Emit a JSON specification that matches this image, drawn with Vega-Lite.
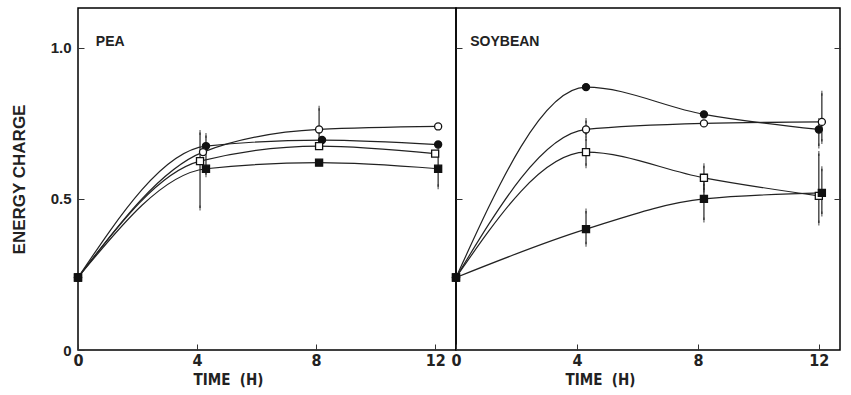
{
  "$schema": "https://vega.github.io/schema/vega-lite/v6.json",
  "background": "white",
  "padding": {"left": 9, "top": 7, "right": 10, "bottom": 0},
  "spacing": 0,
  "bounds": "flush",
  "config": {
    "view": {"stroke": "black", "strokeWidth": 1.5},
    "font": "Liberation Sans",
    "axis": {"grid": false, "domain": false, "tickColor": "#333", "labelColor": "#222", "titleColor": "#222", "labelFontWeight": "bold", "titleFontWeight": "bold"}
  },
  "datasets": {
    "pts": [
      {"crop": "PEA", "series": "fc", "t": 0, "ec": 0.24},
      {"crop": "PEA", "series": "fc", "t": 4.3, "ec": 0.675, "lo": 0.58, "hi": 0.71},
      {"crop": "PEA", "series": "fc", "t": 8.2, "ec": 0.695},
      {"crop": "PEA", "series": "fc", "t": 12.1, "ec": 0.68},
      {"crop": "PEA", "series": "oc", "t": 0, "ec": 0.24},
      {"crop": "PEA", "series": "oc", "t": 4.2, "ec": 0.655},
      {"crop": "PEA", "series": "oc", "t": 8.1, "ec": 0.73, "lo": 0.67, "hi": 0.80},
      {"crop": "PEA", "series": "oc", "t": 12.1, "ec": 0.74},
      {"crop": "PEA", "series": "os", "t": 0, "ec": 0.24},
      {"crop": "PEA", "series": "os", "t": 4.1, "ec": 0.625, "lo": 0.47, "hi": 0.72},
      {"crop": "PEA", "series": "os", "t": 8.1, "ec": 0.675},
      {"crop": "PEA", "series": "os", "t": 12.0, "ec": 0.65},
      {"crop": "PEA", "series": "fs", "t": 0, "ec": 0.24},
      {"crop": "PEA", "series": "fs", "t": 4.3, "ec": 0.60},
      {"crop": "PEA", "series": "fs", "t": 8.1, "ec": 0.62},
      {"crop": "PEA", "series": "fs", "t": 12.1, "ec": 0.60, "lo": 0.54, "hi": 0.66},
      {"crop": "SOYBEAN", "series": "fc", "t": 0, "ec": 0.24},
      {"crop": "SOYBEAN", "series": "fc", "t": 4.3, "ec": 0.87},
      {"crop": "SOYBEAN", "series": "fc", "t": 8.2, "ec": 0.78},
      {"crop": "SOYBEAN", "series": "fc", "t": 12.0, "ec": 0.73, "lo": 0.675, "hi": 0.76},
      {"crop": "SOYBEAN", "series": "oc", "t": 0, "ec": 0.24},
      {"crop": "SOYBEAN", "series": "oc", "t": 4.3, "ec": 0.73, "lo": 0.71, "hi": 0.76},
      {"crop": "SOYBEAN", "series": "oc", "t": 8.2, "ec": 0.75},
      {"crop": "SOYBEAN", "series": "oc", "t": 12.1, "ec": 0.755, "lo": 0.69, "hi": 0.85},
      {"crop": "SOYBEAN", "series": "os", "t": 0, "ec": 0.24},
      {"crop": "SOYBEAN", "series": "os", "t": 4.3, "ec": 0.655, "lo": 0.61, "hi": 0.70},
      {"crop": "SOYBEAN", "series": "os", "t": 8.2, "ec": 0.57, "lo": 0.53, "hi": 0.61},
      {"crop": "SOYBEAN", "series": "os", "t": 12.0, "ec": 0.51, "lo": 0.42, "hi": 0.65},
      {"crop": "SOYBEAN", "series": "fs", "t": 0, "ec": 0.24},
      {"crop": "SOYBEAN", "series": "fs", "t": 4.3, "ec": 0.40, "lo": 0.35, "hi": 0.46},
      {"crop": "SOYBEAN", "series": "fs", "t": 8.2, "ec": 0.50, "lo": 0.43, "hi": 0.55},
      {"crop": "SOYBEAN", "series": "fs", "t": 12.1, "ec": 0.52, "lo": 0.45, "hi": 0.60}
    ],
    "labels": [
      {"crop": "PEA", "t": 0.6, "ec": 1.02},
      {"crop": "SOYBEAN", "t": 0.47, "ec": 1.02}
    ]
  },
  "hconcat": [
    {
      "width": 378,
      "height": 342,
      "layer": [
        {
          "data": {"name": "pts"},
          "transform": [{"filter": "datum.crop == 'PEA'"}],
          "mark": {"type": "line", "interpolate": "monotone", "color": "#222", "strokeWidth": 1.2},
          "encoding": {
            "x": {"field": "t", "type": "quantitative", "scale": {"domain": [0, 12.7], "nice": false},
              "axis": {"values": [0, 4, 8, 12], "tickSize": -6, "labelFontSize": 16, "labelFont": "DejaVu Sans Condensed, Liberation Sans", "labelPadding": 8, "title": "TIME\u00a0 (H)", "titleFontSize": 15, "titleFont": "DejaVu Sans Condensed, Liberation Sans", "titlePadding": 4, "titleX": 150, "labelFlush": false}},
            "y": {"field": "ec", "type": "quantitative", "scale": {"domain": [0, 1.132], "nice": false},
              "axis": {"values": [0, 0.5, 1.0], "tickSize": -6, "labelFontSize": 15, "labelPadding": 13, "labelExpr": "datum.value == 0 ? '0' : format(datum.value, '.1f')", "title": "ENERGY CHARGE", "titleFontSize": 17, "titlePadding": 22}},
            "detail": {"field": "series"}
          }
        },
        {
          "data": {"name": "pts"},
          "transform": [{"filter": "datum.crop == 'PEA' && isValid(datum.lo)"}],
          "mark": {"type": "rule", "color": "#222", "strokeWidth": 1.2},
          "encoding": {
            "x": {"field": "t", "type": "quantitative"},
            "y": {"field": "lo", "type": "quantitative"},
            "y2": {"field": "hi"}
          }
        },
        {
          "data": {"name": "pts"},
          "transform": [{"filter": "datum.crop == 'PEA' && isValid(datum.lo)"}, {"fold": ["lo", "hi"], "as": ["end", "v"]}],
          "mark": {"type": "tick", "color": "#222", "size": 5, "thickness": 1.2},
          "encoding": {
            "x": {"field": "t", "type": "quantitative"},
            "y": {"field": "v", "type": "quantitative"}
          }
        },
        {
          "data": {"name": "pts"},
          "transform": [{"filter": "datum.crop == 'PEA'"}],
          "mark": {"type": "point", "filled": true, "stroke": "#111", "strokeWidth": 1.3, "opacity": 1, "size": 50},
          "encoding": {
            "x": {"field": "t", "type": "quantitative"},
            "y": {"field": "ec", "type": "quantitative"},
            "shape": {"field": "series", "type": "nominal", "scale": {"domain": ["fc", "oc", "os", "fs"], "range": ["circle", "circle", "square", "square"]}, "legend": null},
            "color": {"field": "series", "type": "nominal", "scale": {"domain": ["fc", "oc", "os", "fs"], "range": ["#111", "white", "white", "#111"]}, "legend": null}
          }
        },
        {
          "data": {"name": "labels"},
          "transform": [{"filter": "datum.crop == 'PEA'"}],
          "mark": {"type": "text", "align": "left", "baseline": "middle", "fontWeight": "bold", "fontSize": 14, "color": "#222"},
          "encoding": {
            "x": {"field": "t", "type": "quantitative"},
            "y": {"field": "ec", "type": "quantitative"},
            "text": {"field": "crop"}
          }
        }
      ]
    },
    {
      "width": 384,
      "height": 342,
      "resolve": {"axis": {"y": "independent"}},
      "layer": [
        {
          "data": {"name": "pts"},
          "transform": [{"filter": "datum.crop == 'SOYBEAN'"}],
          "mark": {"type": "line", "interpolate": "monotone", "color": "#222", "strokeWidth": 1.2},
          "encoding": {
            "x": {"field": "t", "type": "quantitative", "scale": {"domain": [0, 12.7], "nice": false},
              "axis": {"values": [0, 4, 8, 12], "tickSize": -6, "labelFontSize": 16, "labelFont": "DejaVu Sans Condensed, Liberation Sans", "labelPadding": 8, "title": "TIME\u00a0 (H)", "titleFontSize": 15, "titleFont": "DejaVu Sans Condensed, Liberation Sans", "titlePadding": 4, "titleX": 144, "labelFlush": false}},
            "y": {"field": "ec", "type": "quantitative", "scale": {"domain": [0, 1.132], "nice": false},
              "axis": {"values": [0.5, 1.0], "tickSize": -6, "labels": false, "title": null}},
            "detail": {"field": "series"}
          }
        },
        {
          "data": {"name": "pts"},
          "transform": [{"filter": "datum.crop == 'SOYBEAN' && isValid(datum.lo)"}],
          "mark": {"type": "rule", "color": "#222", "strokeWidth": 1.2},
          "encoding": {
            "x": {"field": "t", "type": "quantitative"},
            "y": {"field": "lo", "type": "quantitative", "axis": {"orient": "right", "values": [0.5, 1.0], "tickSize": -6, "labels": false, "title": null}},
            "y2": {"field": "hi"}
          }
        },
        {
          "data": {"name": "pts"},
          "transform": [{"filter": "datum.crop == 'SOYBEAN' && isValid(datum.lo)"}, {"fold": ["lo", "hi"], "as": ["end", "v"]}],
          "mark": {"type": "tick", "color": "#222", "size": 5, "thickness": 1.2},
          "encoding": {
            "x": {"field": "t", "type": "quantitative"},
            "y": {"field": "v", "type": "quantitative", "axis": null}
          }
        },
        {
          "data": {"name": "pts"},
          "transform": [{"filter": "datum.crop == 'SOYBEAN'"}],
          "mark": {"type": "point", "filled": true, "stroke": "#111", "strokeWidth": 1.3, "opacity": 1, "size": 50},
          "encoding": {
            "x": {"field": "t", "type": "quantitative"},
            "y": {"field": "ec", "type": "quantitative", "axis": null},
            "shape": {"field": "series", "type": "nominal", "scale": {"domain": ["fc", "oc", "os", "fs"], "range": ["circle", "circle", "square", "square"]}, "legend": null},
            "color": {"field": "series", "type": "nominal", "scale": {"domain": ["fc", "oc", "os", "fs"], "range": ["#111", "white", "white", "#111"]}, "legend": null}
          }
        },
        {
          "data": {"name": "labels"},
          "transform": [{"filter": "datum.crop == 'SOYBEAN'"}],
          "mark": {"type": "text", "align": "left", "baseline": "middle", "fontWeight": "bold", "fontSize": 14, "color": "#222"},
          "encoding": {
            "x": {"field": "t", "type": "quantitative"},
            "y": {"field": "ec", "type": "quantitative", "axis": null},
            "text": {"field": "crop"}
          }
        }
      ]
    }
  ]
}
